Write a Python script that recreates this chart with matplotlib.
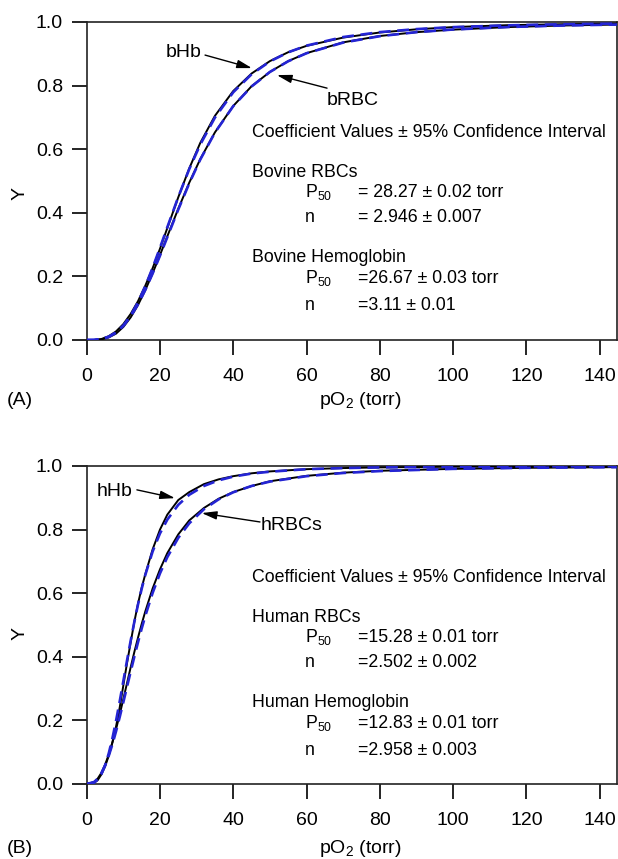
import matplotlib
matplotlib.use("Agg")
import matplotlib.pyplot as plt

plt.rcParams['font.family'] = ['Liberation Sans', 'DejaVu Sans']
plt.rcParams['mathtext.fontset'] = 'custom'
plt.rcParams['mathtext.rm'] = 'Liberation Sans'
plt.rcParams['mathtext.it'] = 'Liberation Sans:italic'
plt.rcParams['mathtext.bf'] = 'Liberation Sans:bold'

# ---------------- data ----------------
# Panel A : bovine
pO2_a = [0, 2, 4, 6, 8, 10, 12, 14, 16, 18, 20, 22, 25, 28, 31, 35, 40, 45,
         50, 55, 60, 70, 80, 90, 100, 115, 130, 145]
bHb_data = [0, 0, 0.003, 0.012, 0.027, 0.05, 0.082, 0.122, 0.171, 0.226, 0.287,
            0.352, 0.449, 0.54, 0.62, 0.705, 0.783, 0.838, 0.877, 0.905, 0.925,
            0.951, 0.967, 0.977, 0.984, 0.990, 0.993, 0.995]
bHb_fit = [0, 0.0002, 0.0027, 0.0096, 0.0231, 0.0452, 0.077, 0.1187, 0.1695,
           0.2274, 0.290, 0.3546, 0.450, 0.5377, 0.6148, 0.6995, 0.7791, 0.8357,
           0.8759, 0.9047, 0.9257, 0.9527, 0.9682, 0.9777, 0.9839, 0.9895,
           0.9928, 0.9949]
bRBC_data = [0, 0, 0.002, 0.008, 0.02, 0.041, 0.071, 0.11, 0.157, 0.21, 0.267,
             0.326, 0.413, 0.495, 0.569, 0.653, 0.736, 0.798, 0.843, 0.877,
             0.902, 0.936, 0.956, 0.968, 0.976, 0.984, 0.989, 0.992]
bRBC_fit = [0, 0.0003, 0.0031, 0.0103, 0.0237, 0.0447, 0.0742, 0.112, 0.1575,
            0.2092, 0.2651, 0.3232, 0.4105, 0.4929, 0.5675, 0.6522, 0.7355,
            0.7973, 0.8429, 0.8766, 0.9018, 0.9353, 0.9554, 0.9681, 0.9764,
            0.9842, 0.9890, 0.9920]

# Panel B : human
pO2_b = [0, 2, 3, 4, 5, 6, 7, 8, 9, 10, 11, 12, 13, 14, 15, 16, 18, 20, 22, 25,
         28, 32, 36, 40, 45, 50, 60, 70, 80, 100, 120, 145]
hHb_data = [0, 0.004, 0.012, 0.03, 0.055, 0.088, 0.13, 0.18, 0.24, 0.31, 0.38,
            0.445, 0.51, 0.567, 0.617, 0.66, 0.738, 0.80, 0.847, 0.893, 0.918,
            0.943, 0.958, 0.968, 0.977, 0.983, 0.990, 0.9935, 0.9956, 0.9977,
            0.9987, 0.9992]
hHb_fit = [0, 0.0041, 0.0134, 0.0309, 0.058, 0.0955, 0.1428, 0.1982, 0.2594,
           0.3236, 0.3881, 0.4507, 0.5097, 0.5642, 0.6136, 0.6577, 0.7313,
           0.788, 0.8313, 0.878, 0.9096, 0.9372, 0.9549, 0.9666, 0.9762, 0.982,
           0.990, 0.9934, 0.9956, 0.9977, 0.9987, 0.9992]
hRBC_data = [0, 0.006, 0.017, 0.035, 0.06, 0.092, 0.13, 0.172, 0.218, 0.267,
             0.317, 0.367, 0.415, 0.46, 0.503, 0.543, 0.615, 0.675, 0.726,
             0.785, 0.829, 0.868, 0.897, 0.918, 0.937, 0.952, 0.969, 0.979,
             0.985, 0.991, 0.9943, 0.9964]
hRBC_fit = [0, 0.0061, 0.0167, 0.0338, 0.0576, 0.088, 0.1242, 0.1653, 0.2101,
            0.2572, 0.3053, 0.3533, 0.4003, 0.4456, 0.4885, 0.5288, 0.6011,
            0.6623, 0.7134, 0.7742, 0.8199, 0.8641, 0.8951, 0.9174, 0.9372,
            0.951, 0.968, 0.978, 0.984, 0.991, 0.9943, 0.9964]

x_ticks = [0, 20, 40, 60, 80, 100, 120, 140]
y_ticks = [0.0, 0.2, 0.4, 0.6, 0.8, 1.0]

header = "Coefficient Values \u00b1 95% Confidence Interval"
textA = [("Bovine RBCs", "= 28.27 \u00b1 0.02 torr", "= 2.946 \u00b1 0.007"),
         ("Bovine Hemoglobin", "=26.67 \u00b1 0.03 torr", "=3.11 \u00b1 0.01")]
textB = [("Human RBCs", "=15.28 \u00b1 0.01 torr", "=2.502 \u00b1 0.002"),
         ("Human Hemoglobin", "=12.83 \u00b1 0.01 torr", "=2.958 \u00b1 0.003")]

# ---------------- figure ----------------
W, H = 618, 859
fig = plt.figure(figsize=(W / 100, H / 100), dpi=100)

def ax_rect(left, top, right, bottom):
    return [left / W, 1 - bottom / H, (right - left) / W, (bottom - top) / H]

axA = fig.add_axes(ax_rect(86.7, 22, 616.5, 340))
axB = fig.add_axes(ax_rect(86.7, 466, 616.5, 784))

BLUE = '#2424d4'
FS = 14
TFS = 12.8

def ftext(px, py, s, **kw):
    kw.setdefault('va', 'baseline')
    kw.setdefault('ha', 'left')
    fig.text(px / W, 1 - py / H, s, **kw)

for ax, x, curves in [
        (axA, pO2_a, [(bHb_data, bHb_fit), (bRBC_data, bRBC_fit)]),
        (axB, pO2_b, [(hHb_data, hHb_fit), (hRBC_data, hRBC_fit)])]:
    for data, fit in curves:
        ax.plot(x, data, color='black', lw=1.4, zorder=3)
        ax.plot(x, fit, color=BLUE, lw=1.9, dashes=(4.5, 2.5), zorder=4)
    ax.set_xlim(0, 144.6)
    ax.set_ylim(0, 1.0)
    ax.set_xticks(x_ticks)
    ax.set_yticks(y_ticks)
    ax.set_yticklabels([f"{v:.1f}" for v in y_ticks])
    ax.tick_params(direction='out', length=11, width=1.2, labelsize=FS,
                   colors='black')
    ax.tick_params(axis='x', pad=9)
    ax.tick_params(axis='y', pad=6)
    for sp in ax.spines.values():
        sp.set_linewidth(1.2)
        sp.set_color('#222222')

# arrows
arrow_kw = dict(arrowstyle='-|>,head_length=0.9,head_width=0.25',
                color='black', lw=1.0, shrinkA=0, shrinkB=0)
axA.annotate('', xy=(45.1, 0.855), xytext=(32.3, 0.896), arrowprops=arrow_kw)
axA.annotate('', xy=(51.9, 0.833), xytext=(65.6, 0.792), arrowprops=arrow_kw)
axB.annotate('', xy=(24.1, 0.899), xytext=(13.7, 0.925), arrowprops=arrow_kw)
axB.annotate('', xy=(31.4, 0.852), xytext=(47.3, 0.824), arrowprops=arrow_kw)

# curve labels
ftext(166, 57, "bHb", fontsize=FS)
ftext(327, 105, "bRBC", fontsize=FS)
ftext(97, 496, "hHb", fontsize=FS)
ftext(261, 530, "hRBCs", fontsize=FS)

# coefficient blocks
def block(y0, rows):
    ftext(252, y0, header, fontsize=TFS)
    ys = [(y0 + 40, y0 + 60, y0 + 85), (y0 + 125, y0 + 146.6, y0 + 173.3)]
    for (name, p50, n), (yn, yp, yq) in zip(rows, ys):
        ftext(252, yn, name, fontsize=TFS)
        ftext(305, yp, "P$_{50}$", fontsize=TFS)
        ftext(358, yp, p50, fontsize=TFS)
        ftext(305, yq, "n", fontsize=TFS)
        ftext(358, yq, n, fontsize=TFS)

block(136.7, textA)
block(581.7, textB)

# axis labels and panel letters
ftext(20, 193, "Y", fontsize=FS, rotation=90, ha='center', va='center')
ftext(20, 633, "Y", fontsize=FS, rotation=90, ha='center', va='center')
ftext(360, 405, "pO$_2$ (torr)", fontsize=FS, ha='center')
ftext(360, 853, "pO$_2$ (torr)", fontsize=FS, ha='center')
ftext(7, 405, "(A)", fontsize=FS)
ftext(7, 853, "(B)", fontsize=FS)

fig.savefig("out.png", dpi=100)
